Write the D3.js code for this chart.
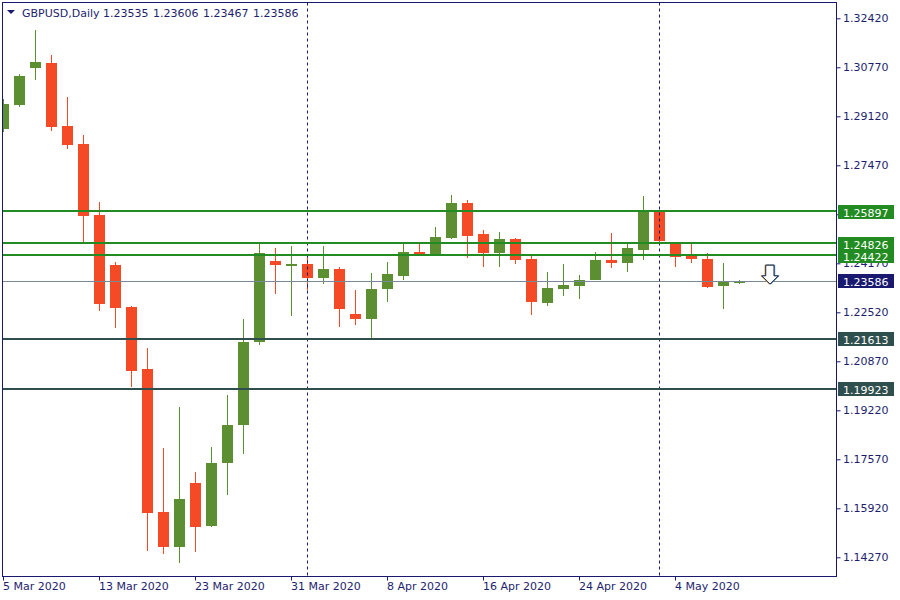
<!DOCTYPE html>
<html><head><meta charset="utf-8">
<script src="https://cdn.jsdelivr.net/npm/d3@7"></script>
<style>
body{margin:0;background:#fff;}
svg{display:block;font-family:"DejaVu Sans",Verdana,sans-serif;}
</style>
</head><body>
<svg id="c" width="900" height="600"></svg>
<script>
const symbol = "GBPUSD,Daily";
const dates = ["2020-03-05","2020-03-06","2020-03-09","2020-03-10","2020-03-11","2020-03-12","2020-03-13",
"2020-03-16","2020-03-17","2020-03-18","2020-03-19","2020-03-20","2020-03-23","2020-03-24","2020-03-25",
"2020-03-26","2020-03-27","2020-03-30","2020-03-31","2020-04-01","2020-04-02","2020-04-03","2020-04-06",
"2020-04-07","2020-04-08","2020-04-09","2020-04-10","2020-04-13","2020-04-14","2020-04-15","2020-04-16",
"2020-04-17","2020-04-20","2020-04-21","2020-04-22","2020-04-23","2020-04-24","2020-04-27","2020-04-28",
"2020-04-29","2020-04-30","2020-05-01","2020-05-04","2020-05-05","2020-05-06","2020-05-07","2020-05-08"];
const opens  = [1.28702,1.29511,1.30757,1.30915,1.28793,1.28187,1.25796,1.24113,1.22698,1.20611,1.15795,1.14627,1.16772,1.15334,1.17455,1.18735,1.21530,1.24247,1.24123,1.24146,1.23685,1.23978,1.22463,1.22304,1.23314,1.23752,1.24550,1.24493,1.25032,1.26200,1.25157,1.24527,1.24988,1.24315,1.22843,1.23314,1.23416,1.23598,1.24281,1.24190,1.24628,1.25907,1.24853,1.24426,1.24315,1.23400,1.23535];
const highs  = [1.29703,1.30544,1.32026,1.31184,1.29770,1.28490,1.26234,1.24214,1.22732,1.21318,1.17950,1.19331,1.17142,1.17984,1.19735,1.22294,1.24843,1.24685,1.24752,1.24392,1.24752,1.24035,1.23271,1.23843,1.24214,1.24843,1.24887,1.25392,1.26470,1.26301,1.25291,1.25224,1.25022,1.24483,1.23877,1.24146,1.23776,1.24550,1.25190,1.24853,1.26436,1.25920,1.24860,1.24853,1.24517,1.24180,1.23606];
const lows   = [1.28601,1.29443,1.30352,1.28635,1.28029,1.24897,1.22574,1.22001,1.20015,1.14492,1.14391,1.14088,1.14458,1.15300,1.16378,1.17758,1.21419,1.23136,1.22395,1.23271,1.23483,1.22035,1.22092,1.21621,1.22877,1.23608,1.24420,1.24490,1.24988,1.24358,1.24055,1.24055,1.24156,1.22439,1.22742,1.23079,1.22978,1.23598,1.24022,1.23887,1.24291,1.24830,1.24055,1.24190,1.23348,1.22641,1.23467];
const closes = [1.29534,1.30477,1.30948,1.28770,1.28164,1.25773,1.22809,1.22675,1.20553,1.15772,1.14627,1.16233,1.15300,1.17445,1.18725,1.21520,1.24517,1.24123,1.24140,1.23685,1.23978,1.22641,1.22304,1.23304,1.23810,1.24550,1.24426,1.25056,1.26200,1.25099,1.24527,1.24988,1.24291,1.22877,1.23338,1.23439,1.23608,1.24281,1.24190,1.24685,1.25907,1.24931,1.24392,1.24325,1.23382,1.23540,1.23586];
const priceTicks = [1.32420,1.30770,1.29120,1.27470,1.25820,1.24170,1.22520,1.20870,1.19220,1.17570,1.15920,1.14270];
const hiddenTickLabels = [1.25820]; // fully covered by the 1.25897 label in the original
const dateTickIdx = [0,6,12,18,24,30,36,42];
const dateTickLabels = ["5 Mar 2020","13 Mar 2020","23 Mar 2020","31 Mar 2020","8 Apr 2020","16 Apr 2020","24 Apr 2020","4 May 2020"];
const separatorIdx = [19,41];
const resistanceLevels = [1.25897,1.24826,1.24422];
const supportLevels = [1.21613,1.19923];
const bid = 1.23586;
const arrowIdx = 48;

const svg = d3.select("#c");
const L = 2.5, T = 2.5, R = 836.5, B = 576.5;
const x = d3.scaleLinear().domain([0,52]).range([3,835]);
const y = d3.scaleLinear().domain([1.14270,1.32420]).range([557.3,18.3]);
const navy = "#191970", txt = "#1e1e6e";
const up = "#5b8f31", down = "#f44b26";
const fmt = d3.format(".5f");

svg.append("rect").attr("width",900).attr("height",600).attr("fill","#fff");
svg.append("defs").append("clipPath").attr("id","clip")
  .append("rect").attr("x",3).attr("y",3).attr("width",R-L-1).attr("height",B-T-1);
const plot = svg.append("g").attr("clip-path","url(#clip)");

const data = dates.map((d,i)=>({i,d,o:opens[i],h:highs[i],l:lows[i],c:closes[i]}));
const cg = plot.append("g").attr("shape-rendering","crispEdges");
cg.selectAll("rect.wick").data(data).join("rect").attr("class","wick")
  .attr("x",d=>Math.round(x(d.i))).attr("width",1)
  .attr("y",d=>Math.round(y(d.h))).attr("height",d=>Math.max(1,Math.round(y(d.l))-Math.round(y(d.h))))
  .attr("fill",d=>d.c>=d.o?up:down);
cg.selectAll("rect.body").data(data).join("rect").attr("class","body")
  .attr("x",d=>Math.round(x(d.i))-5).attr("width",11)
  .attr("y",d=>Math.round(y(Math.max(d.o,d.c))))
  .attr("height",d=>Math.max(2,Math.round(y(Math.min(d.o,d.c)))-Math.round(y(Math.max(d.o,d.c)))))
  .attr("fill",d=>d.c>=d.o?up:down);

// separators
plot.selectAll("line.sep").data(separatorIdx).join("line")
  .attr("x1",i=>Math.round(x(i))+0.5).attr("x2",i=>Math.round(x(i))+0.5)
  .attr("y1",T).attr("y2",B).attr("stroke",navy).attr("stroke-width",1).attr("stroke-dasharray","3,3");

// level lines
plot.append("line").attr("x1",L).attr("x2",R).attr("y1",Math.round(y(bid))+0.5).attr("y2",Math.round(y(bid))+0.5)
  .attr("stroke","#778899").attr("stroke-width",1);
plot.selectAll("line.res").data(resistanceLevels).join("line")
  .attr("x1",L).attr("x2",R).attr("y1",v=>Math.round(y(v))-1).attr("y2",v=>Math.round(y(v))-1)
  .attr("stroke","#228b22").attr("stroke-width",2);
plot.selectAll("line.sup").data(supportLevels).join("line")
  .attr("x1",L).attr("x2",R).attr("y1",v=>Math.round(y(v))).attr("y2",v=>Math.round(y(v)))
  .attr("stroke","#2f4f4f").attr("stroke-width",2);

// frame
svg.append("rect").attr("x",L).attr("y",T).attr("width",R-L).attr("height",B-T)
  .attr("fill","none").attr("stroke",navy).attr("stroke-width",1);

// right axis
const ra = svg.append("g").attr("transform",`translate(${R},0)`);
ra.call(d3.axisRight(y).tickValues(priceTicks).tickSize(4).tickPadding(3)
  .tickFormat(v=>hiddenTickLabels.includes(v)?"":fmt(v)));
ra.select(".domain").remove();
ra.selectAll(".tick line").attr("stroke",navy);
ra.selectAll(".tick text").attr("fill",txt).attr("font-size",11).attr("font-family","DejaVu Sans, Verdana, sans-serif").attr("x",6.5);

// bottom axis
const ba = svg.append("g").attr("transform",`translate(0,${B})`);
ba.call(d3.axisBottom(x).tickValues(dateTickIdx).tickSize(4).tickFormat((d,k)=>dateTickLabels[k]));
ba.select(".domain").remove();
ba.selectAll(".tick").attr("transform",d=>`translate(${Math.round(x(d))+0.5},0)`);
ba.selectAll(".tick line").attr("stroke",navy);
ba.selectAll(".tick text").attr("fill",txt).attr("font-size",11).attr("font-family","DejaVu Sans, Verdana, sans-serif")
  .attr("text-anchor","start").attr("x",-0.5).attr("y",6).attr("dy","0.71em");

// level labels
function box(v,fill){
  const yy = Math.round(y(v));
  const g = svg.append("g");
  g.append("rect").attr("x",838).attr("y",yy-7).attr("width",56).attr("height",14).attr("fill",fill);
  g.append("text").attr("x",843).attr("y",yy+4.5).attr("fill","#fff").attr("font-size",11).text(fmt(v));
}
resistanceLevels.forEach(v=>box(v,"#228b22"));
supportLevels.forEach(v=>box(v,"#2f4f4f"));
box(bid,navy);

// header
const hdr = svg.append("g");
hdr.append("path").attr("d","M7,10 L15,10 L11,14 Z").attr("fill",navy);
hdr.append("text").attr("x",22).attr("y",17).attr("fill",txt).attr("font-size",11).text(symbol);
const last = data[data.length-1];
[last.o,last.h,last.l,last.c].forEach((v,k)=>{
  hdr.append("text").attr("x",103+50*k).attr("y",17).attr("fill",txt).attr("font-size",11).text(fmt(v));
});

// arrow
const ax = x(arrowIdx)-1, ay = y(bid)+3.5;
const arrowPath = `M${ax-4.3},${ay-19} L${ax+4},${ay-19} L${ax+4},${ay-8.3} L${ax+8.3},${ay-8.3} L${ax},${ay} L${ax-8.3},${ay-8.3} L${ax-4.3},${ay-8.3} Z`;
svg.append("path").attr("d",arrowPath).attr("fill","none").attr("stroke","#f0a040").attr("stroke-width",1).attr("transform","translate(-0.7,0)");
svg.append("path").attr("d",arrowPath).attr("fill","none").attr("stroke","#3a8ad8").attr("stroke-width",1).attr("transform","translate(0.7,0)");
svg.append("path").attr("d",arrowPath).attr("fill","#fff").attr("fill-opacity",0.9).attr("stroke","#1b2440").attr("stroke-width",1);
</script>
</body></html>
